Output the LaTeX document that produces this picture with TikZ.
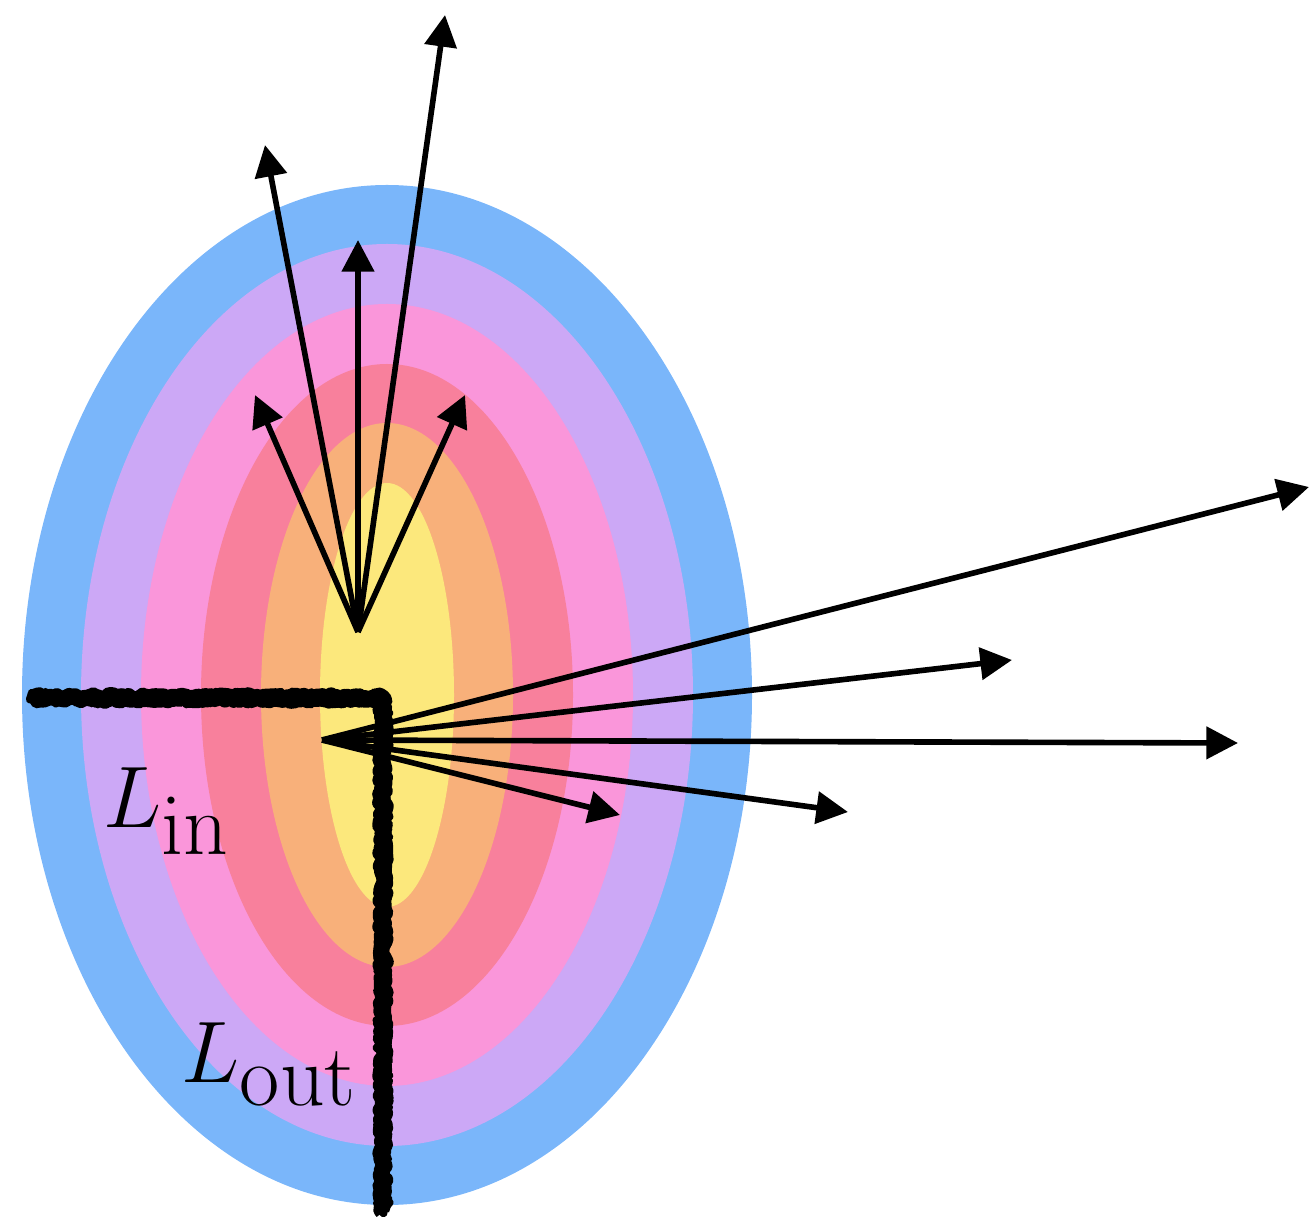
\documentclass[tikz,border=0pt]{standalone}
\usepackage{amsmath}
\usetikzlibrary{arrows.meta, decorations.pathmorphing}

\definecolor{ringA}{RGB}{122,182,250}
\definecolor{ringB}{RGB}{204,168,246}
\definecolor{ringC}{RGB}{250,150,218}
\definecolor{ringD}{RGB}{248,128,156}
\definecolor{ringE}{RGB}{248,176,122}
\definecolor{ringF}{RGB}{252,232,124}

\begin{document}
\begin{tikzpicture}[
        ray/.style={line width=1.6pt, -{Triangle[length=9pt, width=9pt]}},
        rough/.style={line width=4.6pt, line join=round,
            decorate, decoration={random steps, segment length=0.8pt, amplitude=0.8pt}},
        lbl/.style={font=\fontsize{33}{38}\selectfont, inner sep=0pt, anchor=base west}
    ]
    \useasboundingbox (0,0) rectangle (13.11,12.18);

    % nested rings
    \coordinate (c) at (3.87,5.23);
    \foreach \rx/\ry/\col in {3.65/5.10/ringA, 3.06/4.51/ringB, 2.46/3.91/ringC,
                              1.86/3.31/ringD, 1.26/2.72/ringE, 0.67/2.12/ringF}
        \fill[\col] (c) ellipse [x radius=\rx, y radius=\ry];

    % upper fan
    \coordinate (up) at (3.58,5.86);
    \foreach \name/\pos in {u1/{4.45,12.03}, u2/{2.65,10.73}, u3/{3.58,9.78},
                            u4/{2.55,8.23}, u5/{4.65,8.23}}
    {
        \coordinate (\name) at (\pos);
        \draw[ray] (up) -- (\name);
    }

    % lower fan
    \coordinate (lo) at (3.22,4.78);
    \foreach \name/\pos in {r1/{13.09,7.31}, r2/{10.12,5.58}, r3/{12.38,4.75},
                            r4/{6.20,4.03}, r5/{8.48,4.06}}
    {
        \coordinate (\name) at (\pos);
        \draw[ray] (lo) -- (\name);
    }

    % rough boundary
    \coordinate (bl) at (0.31,5.20);
    \coordinate (bc) at (3.83,5.20);
    \coordinate (bb) at (3.83,0.06);
    \draw[rough] (bl) -- (bc) -- (bb);
    \draw[rough, line width=2.4pt, decoration={random steps, segment length=0.5pt, amplitude=1.8pt}]
        (bl) -- (bc) -- (bb);

    % labels
    \node[lbl] (lin) at (1.03,3.91) {$L_{\mathrm{in}}$};
    \node[lbl] (lout) at (1.81,1.36) {$L_{\mathrm{out}}$};
\end{tikzpicture}
\end{document}
